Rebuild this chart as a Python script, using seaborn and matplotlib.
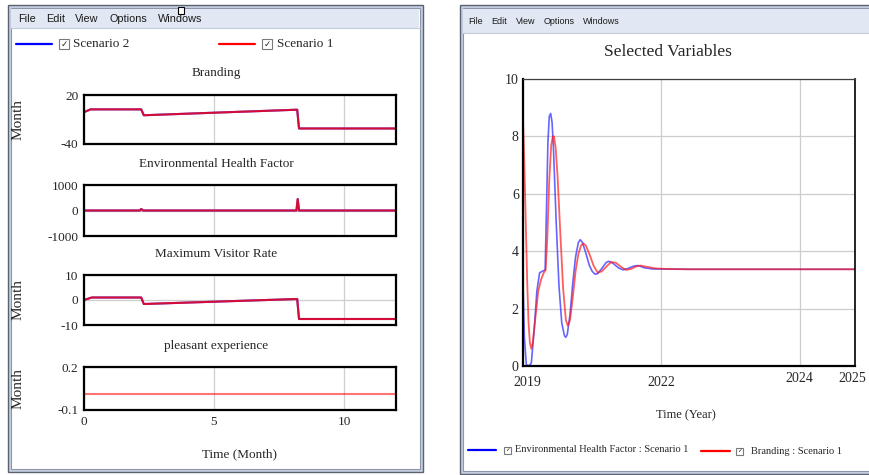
import matplotlib
matplotlib.use("Agg")
import matplotlib.pyplot as plt
from matplotlib.patches import Rectangle
from matplotlib.lines import Line2D
import seaborn as sns

W, H = 870, 475

# ---------------- data: left window (Time in months, two scenarios overlap) ----------------
panel_titles = ["Branding", "Environmental Health Factor", "Maximum Visitor Rate", "pleasant experience"]
panel_units = ["Month", "", "Month", "Month"]
panel_ylims = [(-40, 20), (-1000, 1000), (-10, 10), (-0.1, 0.2)]
panel_yticks = [[-40, 20], [-1000, 0, 1000], [-10, 0, 10], [-0.1, 0.2]]
panel_yticklabels = [["-40", "20"], ["-1000", "0", "1000"], ["-10", "0", "10"], ["-0.1", "0.2"]]
month_ticks = [0, 5, 10]

t_branding = [0, 0.25, 2.2, 2.3, 8.2, 8.27, 12]
branding = [-1, 2.4, 2.4, -4.8, 2.0, -21, -21]
t_env = [0, 2.15, 2.2, 2.27, 8.17, 8.22, 8.27, 12]
env_health = [0, 0, 60, 0, 0, 450, 0, 0]
t_visitor = [0, 0.3, 2.2, 2.3, 8.2, 8.27, 12]
max_visitor = [0, 1.0, 1.0, -1.6, 0.4, -7.6, -7.6]
t_pleasant = [0, 12]
pleasant = [0.01, 0.01]

# ---------------- data: right window (Selected Variables) ----------------
t_ehf = [0, 0.05, 0.12, 0.2, 0.3, 0.4, 0.5, 0.6, 0.7, 0.8, 0.85, 0.9, 0.95, 1.0, 1.05, 1.1,
         1.2, 1.3, 1.4, 1.5, 1.55, 1.6, 1.7, 1.8, 1.9, 2.0, 2.07, 2.15, 2.25, 2.4, 2.5, 2.6,
         2.7, 2.85, 3.0, 3.1, 3.25, 3.45, 3.62, 3.8, 4.0, 4.15, 4.4, 4.7, 5.0, 6.0, 8.0, 10.0, 12.0]
ehf_s1 = [2.9, 1.0, 0.05, 0.0, 0.1, 1.2, 2.6, 3.25, 3.3, 3.35, 5.5, 7.8, 8.7, 8.8, 8.5, 7.6,
          5.0, 2.8, 1.5, 1.05, 1.0, 1.1, 1.8, 2.9, 3.8, 4.3, 4.4, 4.3, 4.0, 3.5, 3.3, 3.2,
          3.22, 3.4, 3.6, 3.65, 3.58, 3.42, 3.35, 3.4, 3.48, 3.5, 3.42, 3.38, 3.38, 3.37, 3.37, 3.37, 3.37]
t_brd = [0, 0.05, 0.1, 0.15, 0.2, 0.25, 0.3, 0.35, 0.45, 0.55, 0.65, 0.75, 0.82, 0.88, 0.95,
         1.02, 1.08, 1.12, 1.18, 1.25, 1.35, 1.45, 1.55, 1.62, 1.7, 1.8, 1.9, 2.0, 2.1, 2.18,
         2.27, 2.4, 2.55, 2.7, 2.85, 3.0, 3.18, 3.35, 3.55, 3.72, 3.9, 4.1, 4.25, 4.5, 4.8,
         5.2, 6.0, 8.0, 10.0, 12.0]
brd_s1 = [8.6, 7.0, 5.0, 3.0, 1.5, 0.8, 0.6, 0.8, 1.7, 2.6, 3.0, 3.25, 3.35, 4.5, 6.5,
          7.7, 8.0, 8.0, 7.6, 6.6, 4.6, 2.7, 1.6, 1.4, 1.6, 2.4, 3.3, 3.9, 4.2, 4.27,
          4.2, 3.9, 3.5, 3.25, 3.3, 3.45, 3.62, 3.6, 3.45, 3.35, 3.38, 3.47, 3.5, 3.45, 3.4,
          3.38, 3.37, 3.37, 3.37, 3.37]
sel_yticks = [0, 2, 4, 6, 8, 10]
sel_xticks = [0, 5, 10, 12]
sel_xticklabels = ["2019", "2022", "2024", "2025"]

menu_items = ["File", "Edit", "View", "Options", "Windows"]

sns.set_style("white")
plt.rcParams["font.family"] = ["Liberation Serif", "DejaVu Serif"]

fig = plt.figure(figsize=(W / 100, H / 100), dpi=100)


def fx(x):
    return x / W


def fy(y):
    return 1 - y / H


def box(x0, y0, x1, y1, **kw):
    fig.add_artist(Rectangle((fx(x0), fy(y1)), (x1 - x0) / W, (y1 - y0) / H,
                             transform=fig.transFigure, **kw))


def add_ax(x0, y0, x1, y1):
    return fig.add_axes([fx(x0), fy(y1), (x1 - x0) / W, (y1 - y0) / H])


def window(x0, y0, x1, y1, menu_bottom, menu_x, menu_y, menu_size):
    box(x0, y0, x1, y1, facecolor="#c6d0e2", edgecolor="#5a6270", lw=1, zorder=-5)
    box(x0 + 3, y0 + 3, x1 - 3, y1 - 3, facecolor="white", edgecolor="#8c96a8", lw=0.8, zorder=-4)
    box(x0 + 3.5, y0 + 4, x1 - 3.5, menu_bottom, facecolor="#e2e8f3", edgecolor="none", zorder=-3)
    fig.add_artist(Line2D([fx(x0 + 3), fx(x1 - 3)], [fy(menu_bottom)] * 2, color="#c2cad8",
                          lw=0.8, transform=fig.transFigure, zorder=-2))
    for word, xp in zip(menu_items, menu_x):
        fig.text(fx(xp), fy(menu_y), word, family=["Liberation Sans", "DejaVu Sans"],
                 fontsize=menu_size, va="center", ha="left", color="#1a1a1a")


def legend_entry(x_line0, x_line1, y, color, box_x, box_size, text_x, label, size):
    fig.add_artist(Line2D([fx(x_line0), fx(x_line1)], [fy(y)] * 2, color=color, lw=1.6,
                          transform=fig.transFigure))
    box(box_x, y - box_size / 2, box_x + box_size, y + box_size / 2,
        facecolor="white", edgecolor="#7a7a7a", lw=0.8, zorder=2)
    fig.text(fx(box_x + box_size / 2), fy(y), "\u2713", family="DejaVu Sans",
             fontsize=box_size * 0.62, fontweight="bold", ha="center", va="center")
    fig.text(fx(text_x), fy(y), label, fontsize=size, ha="left", va="center")


# ---------------- window frames ----------------
window(8, 5, 423, 472, 28, [18, 46, 75, 110, 158], 19, 7.8)
window(460, 5, 878, 474, 33, [468, 491, 516, 544, 583], 22, 6.5)
box(178, 7, 184, 14, facecolor="white", edgecolor="black", lw=0.8, zorder=3)

# ---------------- left window ----------------
legend_entry(16, 52, 44, "#0000ff", 59, 10, 73, "Scenario 2", 9.5)
legend_entry(219, 255, 44, "#ff0000", 262, 10, 277, "Scenario 1", 9.5)

panel_rows = [(95, 144), (185, 236), (275, 325), (367, 410)]
title_y = [73, 164, 254, 346]
panel_t = [t_branding, t_env, t_visitor, t_pleasant]
panel_v = [branding, env_health, max_visitor, pleasant]

for i, (top, bottom) in enumerate(panel_rows):
    ax = add_ax(84, top, 396, bottom)
    if i < 3:
        sns.lineplot(x=panel_t[i], y=panel_v[i], ax=ax, color="#3a3aff", lw=1.5,
                     estimator=None, sort=False)
        sns.lineplot(x=panel_t[i], y=panel_v[i], ax=ax, color="#ff0000", lw=1.5, alpha=0.78,
                     estimator=None, sort=False)
    else:
        sns.lineplot(x=panel_t[i], y=panel_v[i], ax=ax, color="#ff0000", lw=1.5, alpha=0.55,
                     estimator=None, sort=False)
    ax.set_xlim(0, 12)
    ax.set_ylim(*panel_ylims[i])
    ax.set_yticks(panel_yticks[i], panel_yticklabels[i])
    ax.set_xticks(month_ticks)
    if i < 3:
        ax.set_xticklabels([])
    ax.tick_params(length=0, labelsize=9.5, pad=4)
    ax.grid(True, color="#cfcfcf", lw=0.9)
    for sp in ax.spines.values():
        sp.set_visible(True)
        sp.set_color("black")
        sp.set_linewidth(1.6)
    ax.set_ylabel(panel_units[i], fontsize=11)
    ax.yaxis.set_label_coords(-0.19, 0.5)
    fig.text(fx(216), fy(title_y[i]), panel_titles[i], fontsize=9.5, ha="center", va="center")

fig.text(fx(240), fy(454), "Time (Month)", fontsize=9.5, ha="center", va="center")

# ---------------- right window ----------------
fig.text(fx(668), fy(52), "Selected Variables", fontsize=12.5, ha="center", va="center")

ax = add_ax(523, 79, 855, 366)
sns.lineplot(x=t_ehf, y=ehf_s1, ax=ax, color="#3333ff", lw=1.2, alpha=0.75,
             estimator=None, sort=False)
sns.lineplot(x=t_brd, y=brd_s1, ax=ax, color="#ff1a1a", lw=1.3, alpha=0.7,
             estimator=None, sort=False)
ax.set_xlim(0, 12)
ax.set_ylim(0, 10)
ax.set_yticks(sel_yticks)
ax.set_xticks(sel_xticks)
ax.set_xticklabels([])
ax.tick_params(length=0, labelsize=10, pad=3)
ax.grid(True, color="#cdcdcd", lw=0.9)
for name, sp in ax.spines.items():
    sp.set_visible(True)
    sp.set_color("black")
    sp.set_linewidth(1.6)
ax.spines["top"].set_linewidth(0.9)
ax.spines["top"].set_color("#404040")
ax.spines["right"].set_linewidth(1.2)

# year labels sit a little unevenly in the original, the last two are raised
for k, (xt, lab) in enumerate(zip(sel_xticks, sel_xticklabels)):
    shift = 4 if k >= 2 else 0
    fig.text(fx(523 + xt / 12 * 332 + (4 if k == 0 else 0) - (3 if k == 3 else 0)),
             fy(382 - shift), lab, fontsize=10, ha="center", va="center")

fig.text(fx(686), fy(415), "Time (Year)", fontsize=9, ha="center", va="center")

legend_entry(468, 496, 450, "#0000ff", 504, 7, 515, "Environmental Health Factor : Scenario 1", 7.5)
legend_entry(701, 730, 451, "#ff0000", 736, 7, 751, "Branding : Scenario 1", 7.5)

fig.savefig("out.png", dpi=100)
